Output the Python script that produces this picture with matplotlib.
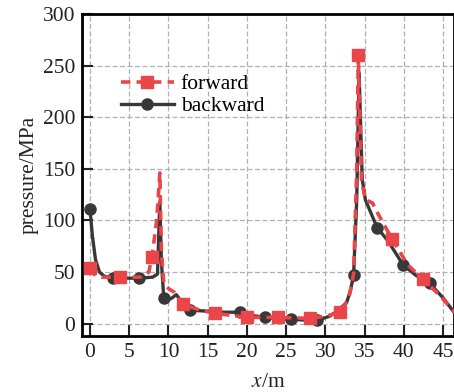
# Pressure along the bore, forward vs backward sweep
import matplotlib
matplotlib.use('Agg')
import matplotlib.pyplot as plt

plt.rcParams['font.family'] = ['Liberation Serif', 'DejaVu Serif']
plt.rcParams['mathtext.fontset'] = 'stix'

# backward sweep: line samples and the indices that carry a marker
x_back = [0, 0.3, 0.7, 1.2, 1.8, 2.9, 5.0, 6.3, 8.0, 8.6, 8.9, 9.1, 9.4,
          10.3, 11.0, 11.8, 12.7, 15.0, 17.0, 19.1, 20.5, 22.3, 25.6, 28.9,
          30.5, 31.5, 32.7, 33.2, 33.6, 34.0, 34.3, 34.7, 35.1, 36.6, 38.0,
          39.9, 41.5, 43.3, 45.0, 46.5]
p_back = [111, 85, 62, 50, 46, 44, 44, 44, 45, 48, 118, 60, 25,
          24, 28, 20, 13, 12, 11, 11, 8, 6, 4, 3,
          7, 12, 20, 32, 47, 120, 243, 140, 120, 93, 80,
          57, 47, 39, 25, 10]
mark_back = [0, 5, 7, 12, 16, 19, 21, 22, 23, 28, 33, 35, 37]

# forward sweep
x_fwd = [0, 0.5, 1.5, 3.8, 6.5, 7.5, 7.9, 8.5, 8.9, 9.1, 9.4, 10.0, 10.8,
         11.8, 14.0, 15.9, 20.0, 24.0, 28.0, 30.0, 31.9, 33.0, 33.6, 34.0,
         34.2, 34.6, 35.1, 36.0, 36.6, 38.5, 40.5, 42.4, 44.5, 46.5]
p_fwd = [54, 48, 45, 45, 45, 50, 65, 100, 146, 70, 40, 34, 30,
         19, 13, 10, 6, 6, 5, 7, 11, 25, 48, 150,
         260, 140, 120, 117, 108, 82, 57, 43, 28, 11]
mark_fwd = [0, 3, 6, 13, 15, 16, 17, 18, 20, 24, 29, 31]

x_ticks = [0, 5, 10, 15, 20, 25, 30, 35, 40, 45]
y_ticks = [0, 50, 100, 150, 200, 250, 300]

fig = plt.figure(figsize=(4.54, 3.92), dpi=100)
ax = fig.add_axes([0.181, 0.143, 0.819, 0.821])

ax.plot(x_back, p_back, color='#383838', lw=2.4, ls='-', marker='o',
        ms=8, markevery=mark_back, label='backward', zorder=3)
ax.plot(x_fwd, p_fwd, color='#ea4548', lw=2.6, ls=(0, (2.6, 1.7)),
        marker='s', ms=8, markevery=mark_fwd, label='forward', zorder=4)

ax.set_xlim(-1, 46.4)
ax.set_ylim(-12, 300)
ax.set_xticks(x_ticks)
ax.set_yticks(y_ticks)
ax.grid(True, color='#b0b0b0', ls=(0, (4, 2)), lw=0.9)
ax.set_axisbelow(True)

for side in ['left', 'bottom', 'top', 'right']:
    ax.spines[side].set_linewidth(2.0)
ax.tick_params(direction='in', length=8, width=1.5, labelsize=15.5,
               colors='#222222', pad=5)

ax.set_xlabel('$x$/m', fontsize=15.5, color='#222222', labelpad=8)
ax.set_ylabel('pressure/MPa', fontsize=15.5, color='#222222', labelpad=3)

handles, labels = ax.get_legend_handles_labels()
ax.legend(handles[::-1], labels[::-1], loc='upper left',
          bbox_to_anchor=(0.08, 0.84), frameon=False, fontsize=15.5,
          handlelength=2.5, handletextpad=0.3, labelspacing=0.08,
          borderaxespad=0)

fig.savefig('out.png', dpi=100)
